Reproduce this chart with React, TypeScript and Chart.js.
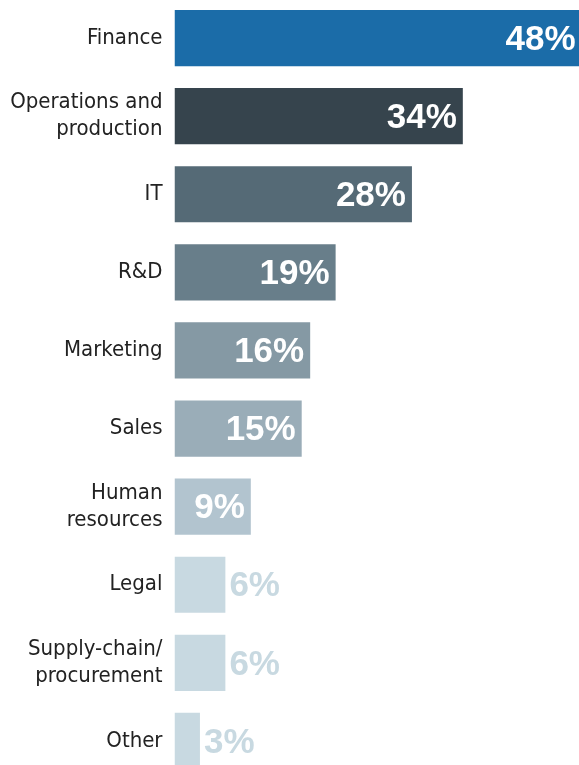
import React, { useEffect, useRef } from "react";
import { Chart, registerables } from "chart.js";

Chart.register(...registerables);

const categories: (string | string[])[] = [
  "Finance",
  ["Operations and", "production"],
  "IT",
  "R&D",
  "Marketing",
  "Sales",
  ["Human", "resources"],
  "Legal",
  ["Supply-chain/", "procurement"],
  "Other",
];
const values = [48, 34, 28, 19, 16, 15, 9, 6, 6, 3];
const valueLabels = ["48%", "34%", "28%", "19%", "16%", "15%", "9%", "6%", "6%", "3%"];
const barColors = [
  "#1b6ca8",
  "#36444d",
  "#556a76",
  "#687e8a",
  "#8599a4",
  "#9aadb8",
  "#b2c4cf",
  "#c8d9e1",
  "#c8d9e1",
  "#c8d9e1",
];
const insideLabel = [true, true, true, true, true, true, true, false, false, false];

const labelPlugin = {
  id: "valueLabels",
  afterDatasetsDraw(chart: any) {
    const ctx = chart.ctx;
    const meta = chart.getDatasetMeta(0);
    ctx.save();
    ctx.font = "bold 35px 'Liberation Sans', Arial, sans-serif";
    ctx.textBaseline = "middle";
    meta.data.forEach((bar: any, i: number) => {
      const y = bar.y + 2;
      if (insideLabel[i]) {
        ctx.fillStyle = "#ffffff";
        ctx.textAlign = "right";
        ctx.fillText(valueLabels[i], Math.min(bar.x, 581.5) - 6, y);
      } else {
        ctx.fillStyle = "#c8d9e1";
        ctx.textAlign = "left";
        ctx.fillText(valueLabels[i], bar.x + 4, y);
      }
    });
    ctx.restore();
  },
};

export default function App() {
  const ref = useRef<HTMLCanvasElement | null>(null);
  useEffect(() => {
    if (!ref.current) return;
    const chart = new Chart(ref.current, {
      type: "bar",
      data: {
        labels: categories as any,
        datasets: [
          {
            data: values,
            backgroundColor: barColors,
            barPercentage: 0.72,
            categoryPercentage: 1,
            borderWidth: 0,
          },
        ],
      },
      options: {
        indexAxis: "y",
        animation: false,
        responsive: true,
        maintainAspectRatio: false,
        layout: { padding: 0 },
        plugins: { legend: { display: false }, tooltip: { enabled: false } },
        scales: {
          x: { display: false, min: 0, max: 47.7 },
          y: {
            grid: { display: false, drawTicks: false },
            border: { display: false },
            afterFit(scale: any) {
              scale.width = 174.5;
              scale.paddingTop = 0;
              scale.paddingBottom = 0;
            },
            ticks: {
              padding: 12,
              color: "#222222",
              font: { family: "'DejaVu Sans Condensed', 'DejaVu Sans', sans-serif", size: 22, lineHeight: 1.22 },
            },
          },
        },
      },
      plugins: [labelPlugin],
    });
    return () => chart.destroy();
  }, []);
  return (
    <div style={{ position: "fixed", left: 0, top: 0, width: 579, height: 765, overflow: "hidden", background: "#fff" }}>
      <div style={{ position: "relative", width: 579, height: 781, marginTop: -1 }}>
        <canvas ref={ref} />
      </div>
    </div>
  );
}
